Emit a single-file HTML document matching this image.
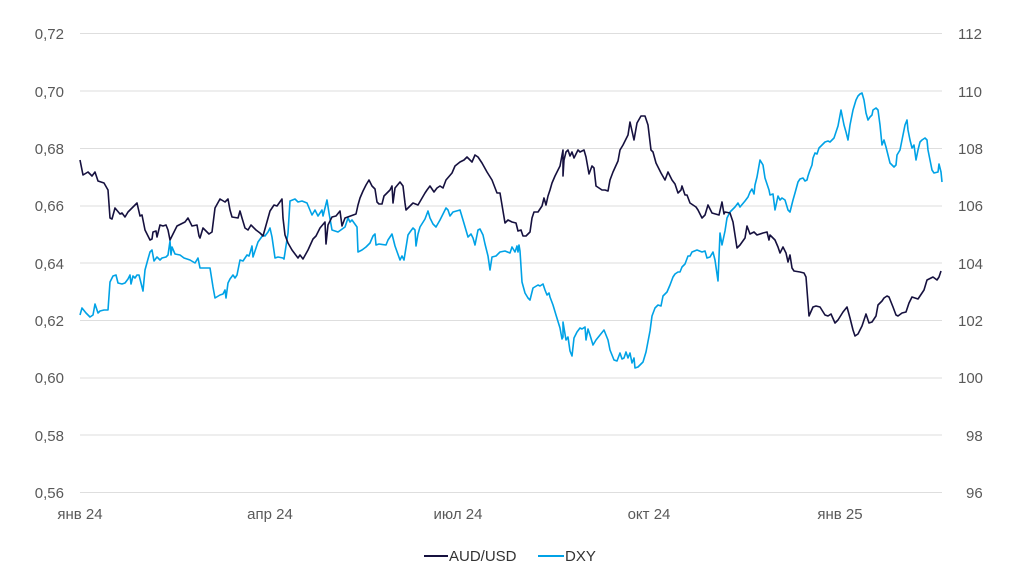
<!DOCTYPE html>
<html><head><meta charset="utf-8"><style>
body{margin:0;background:#fff;}
svg{display:block;font-family:"Liberation Sans",sans-serif;}
</style></head><body>
<svg width="1024" height="577" viewBox="0 0 1024 577">
<g stroke="#dedede" stroke-width="1">
<line x1="80" y1="33.5" x2="942" y2="33.5"/><line x1="80" y1="91" x2="942" y2="91"/>
<line x1="80" y1="148.5" x2="942" y2="148.5"/><line x1="80" y1="206" x2="942" y2="206"/>
<line x1="80" y1="263" x2="942" y2="263"/><line x1="80" y1="320.5" x2="942" y2="320.5"/>
<line x1="80" y1="378" x2="942" y2="378"/><line x1="80" y1="435" x2="942" y2="435"/>
<line x1="80" y1="492.5" x2="942" y2="492.5"/>
</g>
<g fill="#595959" font-size="15" text-anchor="end">
<text x="64" y="39">0,72</text><text x="64" y="97">0,70</text><text x="64" y="154">0,68</text>
<text x="64" y="211">0,66</text><text x="64" y="269">0,64</text><text x="64" y="326">0,62</text>
<text x="64" y="383">0,60</text><text x="64" y="441">0,58</text><text x="64" y="498">0,56</text>
</g>
<g fill="#595959" font-size="15" text-anchor="start">
<text x="958" y="39">112</text><text x="958" y="97">110</text><text x="958" y="154">108</text>
<text x="958" y="211">106</text><text x="958" y="269">104</text><text x="958" y="326">102</text>
<text x="958" y="383">100</text><text x="966" y="441">98</text><text x="966" y="498">96</text>
</g>
<g fill="#595959" font-size="15" text-anchor="middle">
<text x="80" y="519">янв 24</text><text x="270" y="519">апр 24</text><text x="458" y="519">июл 24</text>
<text x="649" y="519">окт 24</text><text x="840" y="519">янв 25</text>
</g>
<polyline fill="none" stroke="#00a2e6" stroke-width="1.6" stroke-linejoin="round" points="80,315 82,308 86,313 90,317 93,315 95,304 98,313 100,311 104,310 108,310 110,282 113,276 116,275 118,283 122,284 125,283 128,279 130,275 131,284 133,276 135,278 137,275 139,275 141,283 143,291 145,270 148,259 150,252 152,250 154,261 157,257 160,260 162,258 166,257 168,255 170,241 171,255 172,247 175,254 180,255 184,258 190,260 195,263 198,258 200,268 205,268 210,268 213,287 215,298 220,295 223,294 225,290 226,298 228,283 230,279 233,275 235,278 237,275 240,260 243,261 247,255 249,256 250,253 252,246 253,257 258,242 263,235 265,236 268,232 270,228 272,237 275,258 278,257 283,258 284,259 288,233 290,201 295,199 298,202 302,201 307,203 312,215 315,210 318,216 322,210 323,216 327,200 329,213 332,230 338,232 345,227 348,218 350,222 352,220 357,227 358,252 362,250 366,247 370,243 373,236 375,234 376,245 379,244 386,245 388,240 392,234 395,246 400,260 402,256 404,260 408,235 410,232 413,228 415,230 416,246 418,234 420,227 425,219 428,211 430,218 433,224 436,227 440,220 446,208 448,210 450,216 453,212 460,210 463,220 468,237 471,234 473,238 475,245 478,230 480,229 483,235 485,244 488,256 490,270 492,257 496,256 500,252 505,251 510,253 512,247 515,252 517,246 518,252 519,245 520,251 522,282 525,293 528,298 530,300 533,288 538,285 540,286 543,284 545,290 547,295 549,293 550,297 553,305 556,315 560,328 562,339 563,337 563,322 566,340 568,337 570,351 572,356 574,338 577,332 580,328 582,329 585,327 586,340 588,329 590,335 593,345 596,340 600,335 604,330 608,340 610,350 612,355 614,360 617,361 620,353 622,359 624,358 626,352 628,358 630,353 632,363 634,358 635,368 638,367 643,362 646,352 650,331 652,316 655,308 658,305 661,306 663,296 667,292 670,285 673,277 675,274 678,272 680,272 682,267 685,264 688,256 690,256 692,252 697,250 702,252 705,251 707,258 710,257 713,252 715,260 718,281 720,233 722,245 725,231 727,218 730,212 735,207 738,203 740,207 745,201 748,197 750,192 752,189 754,194 755,185 757,177 760,160 763,165 765,178 767,184 769,190 770,195 773,194 775,210 778,196 780,200 782,198 785,200 788,210 790,212 793,200 795,193 798,182 800,179 803,178 805,181 807,180 808,176 810,170 812,165 813,158 815,153 817,154 819,148 822,145 825,142 828,141 830,142 834,138 838,126 841,110 844,125 846,132 848,140 850,125 853,110 856,100 858,96 860,94 862,93 864,100 866,113 868,120 870,117 872,115 873,110 876,108 878,110 880,125 882,145 884,140 886,147 888,155 890,163 894,167 896,165 897,155 900,150 902,140 905,125 907,120 908,130 910,140 912,148 914,145 916,160 918,150 920,142 922,140 925,138 927,140 928,150 930,160 932,170 934,173 938,172 939,164 941,172 942,182"/>
<polyline fill="none" stroke="#16113f" stroke-width="1.6" stroke-linejoin="round" points="80,160 83,175 88,172 92,176 95,172 98,181 104,183 108,190 110,218 112,219 115,208 120,214 122,213 125,217 128,212 130,210 137,203 140,216 142,215 145,230 150,240 152,239 153,232 156,231 157,237 160,225 163,226 166,225 168,230 170,240 172,236 177,226 185,222 188,218 192,226 197,225 199,236 200,238 203,228 209,234 212,232 215,208 220,199 225,202 228,199 230,210 232,217 238,218 240,211 242,218 245,228 248,230 251,225 256,230 260,233 263,236 270,211 274,205 277,206 282,199 283,218 285,235 288,243 292,250 295,254 298,258 300,255 303,259 308,250 313,239 316,236 320,228 325,222 326,244 328,225 332,217 336,216 340,211 342,226 345,218 356,214 358,205 360,198 363,191 366,185 369,180 372,186 375,189 377,202 379,204 382,204 384,196 390,190 392,186 393,203 395,188 400,182 403,186 405,203 406,210 413,203 418,205 425,193 427,190 430,186 434,192 437,188 440,186 443,188 446,180 452,173 455,166 460,162 464,160 467,157 472,162 475,155 478,157 482,163 487,172 492,180 497,193 500,193 505,223 508,220 512,222 516,223 518,231 521,230 523,236 526,236 530,232 532,218 534,212 538,212 542,206 544,198 546,205 548,196 550,190 552,183 555,176 560,166 563,150 563,176 564,160 566,152 568,150 570,156 572,152 574,158 578,150 580,152 584,150 586,157 589,174 592,166 594,168 596,186 602,190 605,190 608,191 610,180 613,172 618,161 620,150 623,145 625,141 628,135 630,122 634,140 637,123 641,116 645,116 648,125 651,150 653,152 656,163 661,173 665,180 668,172 672,180 675,184 678,193 681,190 682,186 685,195 687,195 690,203 693,205 696,207 698,210 702,218 705,215 708,205 712,213 719,215 722,202 724,214 725,212 730,213 733,222 737,248 740,245 745,238 747,226 750,234 754,232 757,235 763,233 767,232 769,240 770,235 772,237 775,240 778,247 780,253 783,247 786,253 788,262 790,255 792,268 794,271 800,272 804,273 806,277 809,316 813,307 816,306 820,307 825,315 828,316 831,314 835,323 838,320 843,312 847,307 850,318 853,330 855,336 858,334 862,326 866,314 869,323 872,322 876,316 878,305 882,301 884,298 887,296 889,297 893,307 896,315 898,316 902,313 906,312 909,303 912,297 918,299 920,296 924,290 927,280 933,277 937,280 939,277 941,271"/>
<line x1="424" y1="556" x2="448" y2="556" stroke="#16113f" stroke-width="2"/>
<text x="449" y="561" font-size="15" fill="#333">AUD/USD</text>
<line x1="538" y1="556" x2="564" y2="556" stroke="#00a2e6" stroke-width="2"/>
<text x="565" y="561" font-size="15" fill="#333">DXY</text>
</svg>
</body></html>
